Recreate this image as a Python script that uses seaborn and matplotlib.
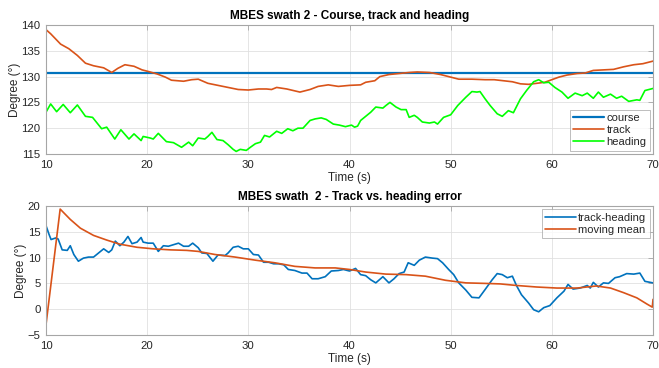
import matplotlib
matplotlib.use("Agg")
import matplotlib.pyplot as plt
import seaborn as sns
import pandas as pd

# ---------------- data ----------------
course_t = [10, 70]
course_v = [130.7, 130.7]

track_t = [10.0, 10.46, 11.44, 12.26, 13.1, 13.9, 14.7, 15.7, 16.5, 17.1, 17.8, 18.7, 19.5, 20.1,
           21.0, 21.8, 22.4, 23.6, 24.4, 25.05, 26.0, 27.0, 28.0, 29.0, 30.0, 31.0, 31.8, 32.3,
           32.8, 33.8, 35.1, 36.1, 36.9, 37.9, 38.9, 40.0, 41.1, 41.6, 42.5, 43.0, 43.9, 44.9,
           45.9, 46.7, 47.9, 49.0, 49.8, 50.8, 52.1, 53.4, 54.3, 55.2, 56.1, 56.9, 57.7, 58.5,
           59.3, 60.0, 60.7, 61.5, 62.5, 63.3, 64.1, 65.1, 66.1, 67.1, 68.1, 69.0, 70.0]
track_v = [139.1, 138.3, 136.3, 135.4, 134.1, 132.6, 132.1, 131.7, 130.8, 131.6, 132.3, 132.0, 131.3, 131.0,
           130.5, 129.9, 129.3, 129.1, 129.4, 129.5, 128.7, 128.3, 127.9, 127.5, 127.4, 127.6, 127.6, 127.5,
           127.9, 127.6, 127.0, 127.5, 128.1, 128.4, 128.1, 128.3, 128.4, 128.9, 129.2, 130.0, 130.4, 130.6,
           130.8, 130.9, 130.8, 130.4, 130.0, 129.5, 129.5, 129.4, 129.4, 129.2, 129.0, 128.6, 128.5, 128.7,
           128.9, 129.4, 129.9, 130.3, 130.6, 130.7, 131.2, 131.3, 131.4, 131.9, 132.3, 132.5, 133.0]

heading_t = [10.0, 10.46, 11.05, 11.7, 12.4, 13.1, 13.9, 14.6, 15.5, 16.0, 16.8, 17.4, 18.2, 18.7,
             19.4, 19.6, 20.3, 20.6, 21.1, 21.9, 22.6, 23.4, 24.1, 24.5, 25.05, 25.7, 26.0, 26.4,
             26.9, 27.5, 28.0, 28.5, 28.8, 29.2, 29.8, 30.2, 30.7, 31.2, 31.6, 32.1, 32.8, 33.3,
             33.9, 34.4, 34.9, 35.4, 36.1, 36.6, 37.2, 37.7, 38.4, 39.0, 39.6, 40.2, 40.5, 40.8,
             41.1, 41.6, 42.1, 42.6, 43.3, 43.6, 44.0, 44.6, 45.1, 45.6, 45.9, 46.4, 46.7, 47.2,
             47.9, 48.4, 48.7, 49.3, 50.0, 50.7, 51.5, 52.1, 52.6, 52.9, 53.4, 53.9, 54.6, 55.1,
             55.7, 56.2, 56.9, 57.5, 58.2, 58.7, 59.2, 59.7, 60.3, 61.0, 61.6, 62.3, 63.0, 63.5,
             64.1, 64.6, 65.1, 65.8, 66.4, 66.9, 67.6, 68.4, 68.7, 69.2, 70.0]
heading_v = [123.1, 124.7, 123.2, 124.6, 123.0, 124.5, 122.3, 122.1, 119.9, 120.2, 117.9, 119.7, 117.9, 118.9,
             117.6, 118.4, 118.1, 117.9, 119.0, 117.4, 117.2, 116.3, 117.3, 116.6, 118.1, 117.9, 118.4, 119.2,
             117.8, 117.6, 116.8, 115.9, 115.5, 115.9, 115.7, 116.3, 117.0, 117.3, 118.6, 118.3, 119.4, 119.0,
             119.9, 119.5, 120.0, 120.0, 121.5, 121.8, 122.0, 121.7, 120.8, 120.6, 120.3, 120.6, 120.2, 120.4,
             121.5, 122.3, 123.1, 124.1, 123.9, 124.4, 125.0, 124.1, 123.6, 123.6, 122.1, 122.5, 122.1, 121.2,
             121.0, 121.2, 120.8, 122.1, 122.6, 124.4, 126.0, 127.1, 127.0, 127.1, 125.7, 124.4, 122.8, 122.3,
             123.4, 123.0, 125.7, 127.3, 129.0, 129.4, 128.8, 128.9, 127.9, 127.0, 125.8, 126.8, 126.3, 126.8,
             125.8, 127.0, 126.0, 126.6, 125.8, 126.2, 125.2, 125.5, 125.4, 127.3, 127.7]

err_t = [10.0, 10.3, 10.5, 10.95, 11.2, 11.6, 12.1, 12.4, 12.75, 13.2, 13.7, 14.2, 14.7, 15.2,
         15.7, 16.2, 16.5, 16.85, 17.3, 17.7, 18.1, 18.5, 19.0, 19.4, 19.6, 20.1, 20.6, 21.1,
         21.6, 22.1, 22.6, 23.1, 23.6, 24.1, 24.5, 25.05, 25.4, 25.9, 26.5, 27.0, 27.7, 28.0,
         28.5, 29.0, 29.5, 30.0, 30.5, 31.0, 31.5, 32.0, 32.5, 33.0, 33.5, 33.95, 34.6, 35.3,
         35.8, 36.3, 36.9, 37.6, 38.2, 38.9, 39.4, 40.0, 40.6, 41.1, 41.6, 42.1, 42.6, 43.3,
         43.9, 44.4, 44.9, 45.4, 45.8, 46.4, 46.9, 47.5, 48.2, 48.7, 49.2, 49.8, 50.3, 50.8,
         51.5, 52.1, 52.8, 53.4, 54.1, 54.6, 55.1, 55.6, 56.1, 56.5, 57.0, 57.7, 58.2, 58.7,
         59.2, 59.8, 60.5, 61.2, 61.6, 62.1, 62.8, 63.5, 63.8, 64.1, 64.6, 65.1, 65.6, 66.25,
         66.7, 67.4, 68.1, 68.7, 69.2, 70.0]
err_v = [16.2, 14.5, 13.5, 13.8, 13.6, 11.5, 11.4, 12.3, 10.6, 9.3, 9.9, 10.1, 10.1, 10.9,
         11.7, 11.0, 11.5, 13.2, 12.3, 13.0, 14.1, 12.7, 13.0, 13.9, 13.0, 12.8, 12.8, 11.2,
         12.3, 12.2, 12.5, 12.8, 12.2, 12.2, 12.8, 11.9, 10.9, 10.8, 9.3, 10.5, 10.4, 10.9,
         12.0, 12.2, 11.7, 11.7, 10.6, 10.5, 9.1, 9.1, 8.8, 8.8, 8.6, 7.7, 7.5, 7.0,
         7.0, 5.9, 5.9, 6.3, 7.4, 7.5, 7.7, 7.4, 7.9, 6.7, 6.5, 5.7, 5.1, 6.3,
         5.1, 5.9, 6.9, 7.2, 9.0, 8.5, 9.5, 10.1, 9.9, 9.8, 9.0, 7.7, 6.7, 5.1,
         3.7, 2.3, 2.2, 3.8, 5.7, 6.9, 6.7, 6.1, 6.4, 4.6, 2.8, 1.2, -0.1, -0.5,
         0.3, 0.7, 2.2, 3.5, 4.8, 3.9, 4.1, 4.6, 4.1, 5.2, 4.3, 5.1, 5.0, 6.1,
         6.3, 6.9, 6.8, 7.0, 5.4, 5.1]

mean_t = [10.0, 11.4, 12.4, 13.4, 14.7, 16.0, 17.3, 19.0, 20.6, 22.3, 23.9, 25.05, 26.7, 28.7,
          30.7, 32.6, 34.6, 36.6, 38.6, 40.0, 41.6, 43.6, 45.6, 47.5, 49.5, 51.5, 53.4, 54.9,
          56.5, 58.5, 60.5, 62.5, 64.4, 65.8, 67.1, 68.4, 69.4, 69.93, 70.0]
mean_v = [-3.0, 19.4, 17.4, 15.7, 14.3, 13.4, 12.6, 12.0, 11.7, 11.5, 11.4, 11.2, 10.6, 10.1,
          9.5, 9.0, 8.3, 8.0, 8.0, 7.7, 7.2, 6.8, 6.7, 6.4, 5.6, 5.1, 5.0, 4.9,
          4.6, 4.3, 4.1, 4.1, 4.5, 4.1, 3.2, 2.2, 1.0, 0.4, 1.9]

x_ticks = [10, 20, 30, 40, 50, 60, 70]
y_ticks_top = [115, 120, 125, 130, 135, 140]
y_ticks_bot = [-5, 0, 5, 10, 15, 20]

# ---------------- style ----------------
sns.set_style("whitegrid")
plt.rcParams["font.family"] = ["Liberation Sans", "DejaVu Sans"]
plt.rcParams.update({
    "axes.edgecolor": "#a6a6a6",
    "axes.linewidth": 0.8,
    "grid.color": "#e0e0e0",
    "grid.linewidth": 0.6,
    "xtick.direction": "in",
    "ytick.direction": "in",
    "xtick.color": "#a6a6a6",
    "ytick.color": "#a6a6a6",
    "xtick.labelcolor": "#262626",
    "ytick.labelcolor": "#262626",
    "xtick.major.size": 3.5,
    "ytick.major.size": 3.5,
    "xtick.labelsize": 8.2,
    "ytick.labelsize": 8.2,
})

BLUE = "#0072BD"
ORANGE = "#D95319"
GREEN = "#00FF00"

fig = plt.figure(figsize=(6.59, 3.68), dpi=100)
ax1 = fig.add_axes([46/659, 1-154/368, (653-46)/659, 129/368])
ax2 = fig.add_axes([46/659, 1-335/368, (653-46)/659, 129/368])

df_course = pd.DataFrame({"t": course_t, "v": course_v})
df_track = pd.DataFrame({"t": track_t, "v": track_v})
df_head = pd.DataFrame({"t": heading_t, "v": heading_v})
df_err = pd.DataFrame({"t": err_t, "v": err_v})
df_mean = pd.DataFrame({"t": mean_t, "v": mean_v})

sns.lineplot(data=df_course, x="t", y="v", ax=ax1, color=BLUE, lw=1.6, label="course", estimator=None, sort=False)
sns.lineplot(data=df_track, x="t", y="v", ax=ax1, color=ORANGE, lw=1.2, label="track", estimator=None, sort=False)
sns.lineplot(data=df_head, x="t", y="v", ax=ax1, color=GREEN, lw=1.2, label="heading", estimator=None, sort=False)

sns.lineplot(data=df_err, x="t", y="v", ax=ax2, color=BLUE, lw=1.2, label="track-heading", estimator=None, sort=False)
sns.lineplot(data=df_mean, x="t", y="v", ax=ax2, color=ORANGE, lw=1.2, label="moving mean", estimator=None, sort=False)

for ax, yt, title, loc, ylx in [
    (ax1, y_ticks_top, "MBES swath 2 - Course, track and heading", "lower right", -0.041),
    (ax2, y_ticks_bot, "MBES swath  2 - Track vs. heading error", "upper right", -0.031),
]:
    ax.set_xlim(10, 70)
    ax.set_ylim(yt[0], yt[-1])
    ax.set_xticks(x_ticks)
    ax.set_yticks(yt)
    ax.tick_params(axis="both", which="both", top=True, right=True, pad=4, length=3.5, width=0.6)
    ax.set_xlabel("Time (s)", fontsize=8.5, color="#262626", labelpad=1.5)
    ax.set_ylabel("Degree (°)", fontsize=8.5, color="#262626")
    ax.yaxis.set_label_coords(ylx, 0.5)
    ax.set_title(title, fontsize=8.5, fontweight="bold", color="#000000", pad=4)
    for s in ax.spines.values():
        s.set_visible(True)
        s.set_color("#a6a6a6")
    leg = ax.legend(loc=loc, fontsize=8, frameon=True, fancybox=False, handlelength=2.8,
                    handletextpad=0.2, borderpad=0.3, labelspacing=0.2, borderaxespad=0.3)
    leg.get_frame().set_edgecolor("#a0a0a0")
    leg.get_frame().set_linewidth(0.6)
    for t in leg.get_texts():
        t.set_color("#262626")

fig.savefig("out.png", dpi=100)
